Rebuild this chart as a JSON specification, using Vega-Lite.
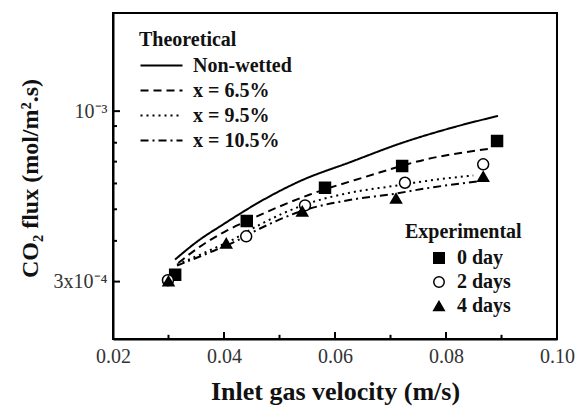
{
  "$schema": "https://vega.github.io/schema/vega-lite/v6.json",
  "autosize": "none",
  "width": 444,
  "height": 326,
  "padding": {"left": 113, "top": 13, "right": 18, "bottom": 68},
  "background": "white",
  "config": {
    "view": {"stroke": "black", "strokeWidth": 2},
    "font": "Liberation Serif",
    "axis": {"grid": false, "domainColor": "black", "domainWidth": 2, "ticks": false,
      "labelFont": "Liberation Serif", "labelFontSize": 20, "labelColor": "#333",
      "titleFont": "Liberation Serif", "titleFontWeight": "bold", "titleColor": "#111"},
    "legend": {"labelFont": "Liberation Serif", "labelFontSize": 20, "labelFontWeight": "bold", "labelColor": "#111",
      "titleFont": "Liberation Serif", "titleFontSize": 20, "titleFontWeight": "bold", "titleColor": "#111"}
  },
  "datasets": {
    "lines": [
      {"v": 0.03117, "flux": 0.0003504, "model": "Non-wetted"},
      {"v": 0.03568, "flux": 0.000404, "model": "Non-wetted"},
      {"v": 0.03928, "flux": 0.000443, "model": "Non-wetted"},
      {"v": 0.04721, "flux": 0.000536, "model": "Non-wetted"},
      {"v": 0.05369, "flux": 0.00061, "model": "Non-wetted"},
      {"v": 0.0627, "flux": 0.000697, "model": "Non-wetted"},
      {"v": 0.07225, "flux": 0.000801, "model": "Non-wetted"},
      {"v": 0.0807, "flux": 0.000886, "model": "Non-wetted"},
      {"v": 0.08937, "flux": 0.000967, "model": "Non-wetted"},
      {"v": 0.03177, "flux": 0.0003423, "model": "x = 6.5%"},
      {"v": 0.03568, "flux": 0.0003842, "model": "x = 6.5%"},
      {"v": 0.04018, "flux": 0.0004273, "model": "x = 6.5%"},
      {"v": 0.04409, "flux": 0.0004598, "model": "x = 6.5%"},
      {"v": 0.04919, "flux": 0.000503, "model": "x = 6.5%"},
      {"v": 0.0555, "flux": 0.000555, "model": "x = 6.5%"},
      {"v": 0.06541, "flux": 0.000628, "model": "x = 6.5%"},
      {"v": 0.07652, "flux": 0.000712, "model": "x = 6.5%"},
      {"v": 0.08823, "flux": 0.000768, "model": "x = 6.5%"},
      {"v": 0.03153, "flux": 0.0003382, "model": "x = 9.5%"},
      {"v": 0.03694, "flux": 0.0003709, "model": "x = 9.5%"},
      {"v": 0.04162, "flux": 0.0004037, "model": "x = 9.5%"},
      {"v": 0.04649, "flux": 0.000449, "model": "x = 9.5%"},
      {"v": 0.05459, "flux": 0.000517, "model": "x = 9.5%"},
      {"v": 0.0627, "flux": 0.000562, "model": "x = 9.5%"},
      {"v": 0.07045, "flux": 0.000589, "model": "x = 9.5%"},
      {"v": 0.07652, "flux": 0.000611, "model": "x = 9.5%"},
      {"v": 0.08492, "flux": 0.000635, "model": "x = 9.5%"},
      {"v": 0.03153, "flux": 0.0003359, "model": "x = 10.5%"},
      {"v": 0.03694, "flux": 0.0003657, "model": "x = 10.5%"},
      {"v": 0.04162, "flux": 0.0003952, "model": "x = 10.5%"},
      {"v": 0.04649, "flux": 0.0004365, "model": "x = 10.5%"},
      {"v": 0.05369, "flux": 0.000492, "model": "x = 10.5%"},
      {"v": 0.06324, "flux": 0.000536, "model": "x = 10.5%"},
      {"v": 0.06991, "flux": 0.000555, "model": "x = 10.5%"},
      {"v": 0.07652, "flux": 0.00058, "model": "x = 10.5%"},
      {"v": 0.08613, "flux": 0.00061, "model": "x = 10.5%"}
    ],
    "points": [
      {"v": 0.0312, "flux": 0.000315, "age": "0 day"},
      {"v": 0.0441, "flux": 0.00046, "age": "0 day"},
      {"v": 0.0582, "flux": 0.000582, "age": "0 day"},
      {"v": 0.0721, "flux": 0.000679, "age": "0 day"},
      {"v": 0.0892, "flux": 0.00081, "age": "0 day"},
      {"v": 0.0299, "flux": 0.000303, "age": "2 days"},
      {"v": 0.044, "flux": 0.000413, "age": "2 days"},
      {"v": 0.0546, "flux": 0.000514, "age": "2 days"},
      {"v": 0.0726, "flux": 0.000603, "age": "2 days"},
      {"v": 0.0867, "flux": 0.000687, "age": "2 days"},
      {"v": 0.03, "flux": 0.000301, "age": "4 days"},
      {"v": 0.0404, "flux": 0.000393, "age": "4 days"},
      {"v": 0.0541, "flux": 0.000493, "age": "4 days"},
      {"v": 0.071, "flux": 0.00054, "age": "4 days"},
      {"v": 0.0867, "flux": 0.00063, "age": "4 days"}
    ],
    "xmajor": [{"tv": 0.04}, {"tv": 0.06}, {"tv": 0.08}],
    "xminor": [{"tv": 0.03}, {"tv": 0.05}, {"tv": 0.07}, {"tv": 0.09}],
    "ymajor": [{"tf": 0.0003}, {"tf": 0.001}],
    "yminor": [{"tf": 0.0004}, {"tf": 0.0005}, {"tf": 0.0006}, {"tf": 0.0007}, {"tf": 0.0008}, {"tf": 0.0009}]
  },
  "layer": [
    {
      "data": {"name": "xmajor"},
      "mark": {"type": "rule", "color": "black", "strokeWidth": 2},
      "encoding": {"x": {"field": "tv", "type": "quantitative"}, "y": {"datum": 0.0002, "type": "quantitative"}, "y2": {"datum": 0.00021}}
    },
    {
      "data": {"name": "xminor"},
      "mark": {"type": "rule", "color": "black", "strokeWidth": 2},
      "encoding": {"x": {"field": "tv", "type": "quantitative"}, "y": {"datum": 0.0002, "type": "quantitative"}, "y2": {"datum": 0.000206}}
    },
    {
      "data": {"name": "ymajor"},
      "mark": {"type": "rule", "color": "black", "strokeWidth": 2},
      "encoding": {"y": {"field": "tf", "type": "quantitative"}, "x": {"datum": 0.02, "type": "quantitative"}, "x2": {"datum": 0.02126}}
    },
    {
      "data": {"name": "yminor"},
      "mark": {"type": "rule", "color": "black", "strokeWidth": 2},
      "encoding": {"y": {"field": "tf", "type": "quantitative"}, "x": {"datum": 0.02, "type": "quantitative"}, "x2": {"datum": 0.02072}}
    },
    {
      "data": {"name": "lines"},
      "mark": {"type": "line", "color": "black", "strokeWidth": 2, "interpolate": "monotone"},
      "encoding": {
        "x": {"field": "v", "type": "quantitative",
          "scale": {"domain": [0.02, 0.1], "nice": false, "zero": false},
          "axis": {"title": "Inlet gas velocity (m/s)", "values": [0.02, 0.04, 0.06, 0.08, 0.1],
            "format": ".2f", "labelPadding": 7, "titlePadding": 12, "titleFontSize": 26, "labelFlush": false}},
        "y": {"field": "flux", "type": "quantitative",
          "scale": {"type": "log", "domain": [0.0002, 0.002], "nice": false},
          "axis": {"title": "CO₂ flux (mol/m².s)", "values": [0.0003, 0.001],
            "labelExpr": "abs(datum.value-0.001) < 1e-9 ? '10⁻³' : '3x10⁻⁴'",
            "labelPadding": 6, "titleFontSize": 24, "titleX": -83, "titleY": 165, "titleAngle": -90,
            "titleAlign": "center", "titleBaseline": "middle", "labelFlush": false}},
        "strokeDash": {"field": "model", "type": "nominal",
          "scale": {"domain": ["Non-wetted", "x = 6.5%", "x = 9.5%", "x = 10.5%"], "range": [[1, 0], [8, 5], [2, 4], [8, 4, 2, 4]]},
          "legend": {"title": "Theoretical", "orient": "none", "legendX": 26, "legendY": 17,
            "symbolType": "M-2,0H2", "symbolSize": 441, "symbolStrokeColor": "black", "symbolStrokeWidth": 2,
            "symbolOffset": 11, "rowPadding": 3, "labelOffset": 20, "titlePadding": 4}}
      }
    },
    {
      "data": {"name": "points"},
      "mark": {"type": "point", "filled": true, "stroke": "black", "strokeWidth": 1.5, "opacity": 1, "size": 120},
      "encoding": {
        "x": {"field": "v", "type": "quantitative"},
        "y": {"field": "flux", "type": "quantitative"},
        "shape": {"field": "age", "type": "nominal",
          "scale": {"domain": ["0 day", "2 days", "4 days"], "range": ["square", "circle", "triangle-up"]},
          "legend": {"title": "Experimental", "orient": "none", "legendX": 292, "legendY": 209,
            "symbolSize": 110, "symbolOffset": 24, "rowPadding": 4, "labelOffset": 8, "titlePadding": 6,
            "encode": {"symbols": {"update": {"stroke": {"value": "black"}, "strokeWidth": {"value": 1.5}}}}}},
        "fill": {"field": "age", "type": "nominal",
          "scale": {"domain": ["0 day", "2 days", "4 days"], "range": ["black", "white", "black"]},
          "legend": {"title": "Experimental", "orient": "none", "legendX": 292, "legendY": 209,
            "symbolSize": 110, "symbolOffset": 24, "rowPadding": 4, "labelOffset": 8, "titlePadding": 6,
            "encode": {"symbols": {"update": {"stroke": {"value": "black"}, "strokeWidth": {"value": 1.5}}}}}}
      }
    }
  ]
}
